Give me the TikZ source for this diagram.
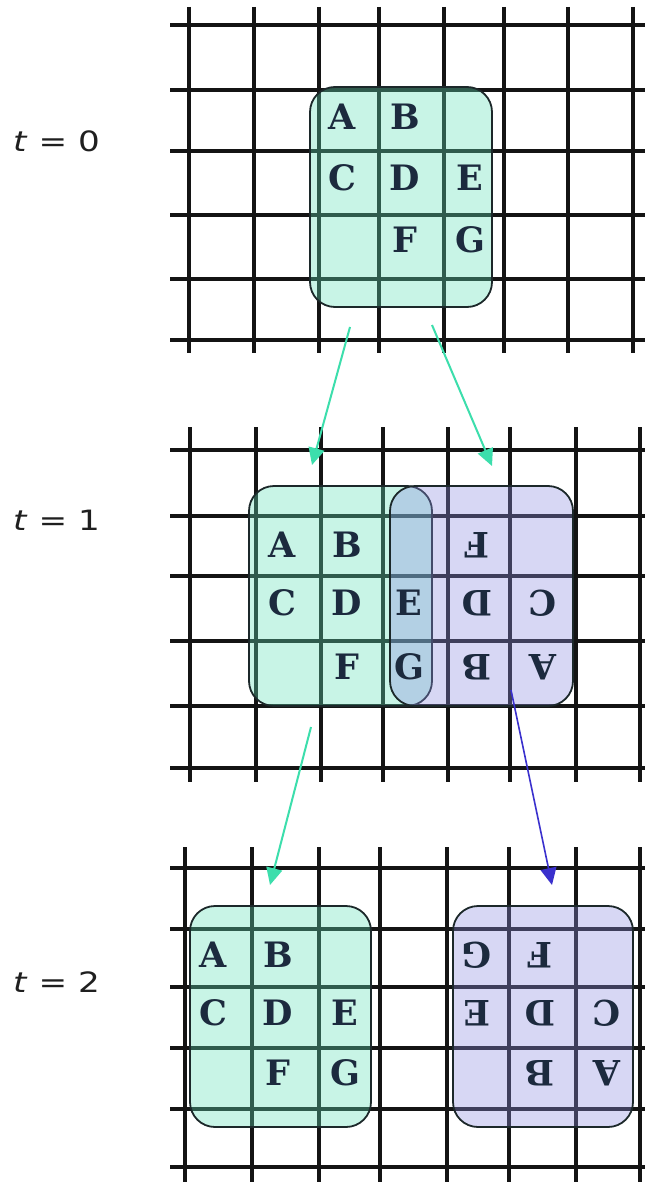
\documentclass[tikz,border=0pt]{standalone}
\usepackage{fontspec}
\usetikzlibrary{arrows.meta}
\newfontfamily\lblfont{DejaVu Sans}
\newfontfamily\letfont{DejaVu Serif}
\definecolor{gfill}{RGB}{98,226,184}
\definecolor{pfill}{RGB}{141,141,226}
\definecolor{boxline}{RGB}{28,40,42}
\definecolor{lettercol}{RGB}{28,42,62}
\definecolor{garr}{RGB}{60,222,172}
\definecolor{barr}{RGB}{58,48,205}
\begin{document}
\begin{tikzpicture}[x=1pt,y=-1pt,
  gridline/.style={line width=4.4pt, black!92},
  gbox/.style={draw=boxline, line width=1.8pt, fill=gfill, fill opacity=0.35, draw opacity=1, rounded corners=25pt},
  pbox/.style={draw=boxline, line width=1.8pt, fill=pfill, fill opacity=0.35, draw opacity=1, rounded corners=25pt},
  let/.style={font=\letfont\bfseries\fontsize{35}{35}\selectfont, text=lettercol, inner sep=0pt},
  rlet/.style={let, rotate=180},
  lbl/.style={font=\lblfont\fontsize{28}{28}\selectfont, text=black!88, inner sep=0pt, anchor=base west, xscale=1.22},
  garrow/.style={draw=garr, line width=2pt, -{Triangle[length=17pt,width=16pt]}},
  barrow/.style={draw=barr, line width=1.6pt, -{Triangle[length=17pt,width=16pt]}}]
\useasboundingbox (0,0) rectangle (645,1182);
\fill[white] (0,0) rectangle (645,1182);

% ---------- grids ----------
% t = 0
\foreach \x in {189,254,319,379,444,504,568,633} \draw[gridline] (\x,7) -- (\x,353);
\foreach \y in {25,90,151,215,279,340} \draw[gridline] (170,\y) -- (645,\y);
% t = 1
\foreach \x in {190,256,321,383,448,510,576,640} \draw[gridline] (\x,427) -- (\x,782);
\foreach \y in {450,516,576,641,706,768} \draw[gridline] (170,\y) -- (645,\y);
% t = 2
\foreach \x in {185,252,319,380,447,509,576,640} \draw[gridline] (\x,847) -- (\x,1182);
\foreach \y in {868,929,987,1048,1109,1167} \draw[gridline] (170,\y) -- (645,\y);

% ---------- boxes ----------
\node[gbox, minimum width=182pt, minimum height=220pt] (g0) at (401,197) {};
\node[gbox, minimum width=183pt, minimum height=220pt] (g1) at (340.5,596) {};
\node[pbox, minimum width=183pt, minimum height=220pt] (p1) at (481.5,596) {};
\node[gbox, minimum width=181pt, minimum height=221pt] (g2) at (280.5,1016.5) {};
\node[pbox, minimum width=180pt, minimum height=221pt] (p2) at (543,1016.5) {};

% ---------- labels ----------
\node[lbl] (l0) at (13,152) {\textit{t} = 0};
\node[lbl] (l1) at (13,530) {\textit{t} = 1};
\node[lbl] (l2) at (13,992) {\textit{t} = 2};

% ---------- letters t = 0 ----------
\node[let] (a0) at (342,117) {A};
\node[let] (b0) at (405,117) {B};
\node[let] (c0) at (342,178) {C};
\node[let] (d0) at (405,178) {D};
\node[let] (e0) at (470,178) {E};
\node[let] (f0) at (405,240) {F};
\node[let] (gg0) at (470,240) {G};

% ---------- letters t = 1 ----------
\node[let] (a1) at (282,545) {A};
\node[let] (b1) at (347,545) {B};
\node[let] (c1) at (282,603) {C};
\node[let] (d1) at (347,603) {D};
\node[let] (e1) at (409,603) {E};
\node[let] (f1) at (347,667) {F};
\node[let] (gg1) at (409,667) {G};
\node[rlet] (rf1) at (477,545) {F};
\node[rlet] (rd1) at (477,603) {D};
\node[rlet] (rc1) at (543,603) {C};
\node[rlet] (rb1) at (477,667) {B};
\node[rlet] (ra1) at (543,667) {A};

% ---------- letters t = 2 ----------
\node[let] (a2) at (213,955) {A};
\node[let] (b2) at (278,955) {B};
\node[let] (c2) at (213,1013) {C};
\node[let] (d2) at (278,1013) {D};
\node[let] (e2) at (345,1013) {E};
\node[let] (f2) at (278,1073) {F};
\node[let] (gg2) at (345,1073) {G};
\node[rlet] (rg2) at (477,955) {G};
\node[rlet] (rf2) at (540,955) {F};
\node[rlet] (re2) at (477,1013) {E};
\node[rlet] (rd2) at (540,1013) {D};
\node[rlet] (rc2) at (607,1013) {C};
\node[rlet] (rb2) at (540,1073) {B};
\node[rlet] (ra2) at (607,1073) {A};

% ---------- arrows ----------
\coordinate (s1) at (350,327);
\coordinate (e1) at (312,465);
\coordinate (s2) at (432,325);
\coordinate (e2) at (492,466);
\coordinate (s3) at (311,727);
\coordinate (e3) at (270,885);
\coordinate (s4) at (511,690);
\coordinate (e4) at (552,885);
\draw[garrow] (s1) -- (e1);
\draw[garrow] (s2) -- (e2);
\draw[garrow] (s3) -- (e3);
\draw[barrow] (s4) -- (e4);
\end{tikzpicture}
\end{document}
